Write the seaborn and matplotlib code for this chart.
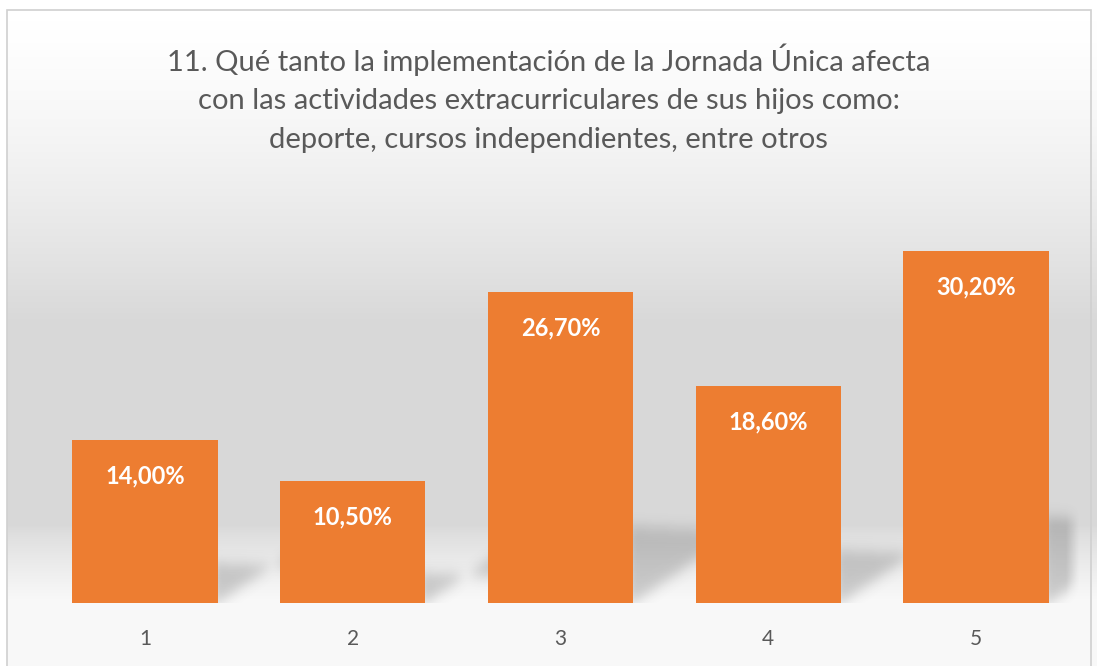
import numpy as np
import pandas as pd
import matplotlib
matplotlib.use("Agg")
import matplotlib.pyplot as plt
import seaborn as sns
from matplotlib.patches import Rectangle
from matplotlib.path import Path

categories = ["1", "2", "3", "4", "5"]
values = [14.0, 10.5, 26.7, 18.6, 30.2]
value_labels = ["14,00%", "10,50%", "26,70%", "18,60%", "30,20%"]
title = ("11. Qué tanto la implementación de la Jornada Única afecta\n"
         "con las actividades extracurriculares de sus hijos como:\n"
         "deporte, cursos independientes, entre otros")

sns.set_theme(style="white")
plt.rcParams['font.family'] = ['Lato', 'DejaVu Sans']

W, H = 1097, 666
fig = plt.figure(figsize=(W / 100, H / 100), dpi=100)
fig.patch.set_facecolor("white")

# background gradient panel
bg = fig.add_axes([0, 0, 1, 1], zorder=0)
bg.set_axis_off()
rows = np.arange(H)
def shade(px):
    top_w, grey_start, grey_end, bot_w = 20, 320, 525, 600
    g_light, g_dark = 1.0, 0.85
    if px < grey_start:
        f = max(0, (px - top_w) / (grey_start - top_w))
        return g_light - (g_light - g_dark) * f ** 1.4
    if px < grey_end:
        return g_dark
    f = min(1, (px - grey_end) / (bot_w - grey_end))
    return g_dark + (0.975 - g_dark) * f ** 0.8
col = np.array([shade(p) for p in rows])
img = np.repeat(col[:, None], 2, axis=1)
img = np.stack([img, img, img], axis=-1)
bg.imshow(img, aspect="auto", extent=[0, 1, 0, 1], origin="upper")
bg.set_xlim(0, 1)
bg.set_ylim(0, 1)
bg.add_patch(Rectangle((0, (H - 10) / H), 1, 10 / H, facecolor="white", edgecolor="none",
                       transform=bg.transAxes))
bg.add_patch(Rectangle((0, 0), 7 / W, 1, facecolor="white", edgecolor="none",
                       transform=bg.transAxes))
bg.add_patch(Rectangle((7 / W, -0.01), (1091 - 7) / W, (H - 10) / H + 0.01, fill=False,
                       edgecolor="#d0d0d0", linewidth=1.2, transform=bg.transAxes))

# main axes
left, right = 41, 1080
bottom_px, top_px = 603, 195
aw, ah = right - left, bottom_px - top_px
ax = fig.add_axes([left / W, (H - bottom_px) / H, aw / W, ah / H], zorder=2)
ax.patch.set_alpha(0)

df = pd.DataFrame({"cat": categories, "val": values})
sns.barplot(data=df, x="cat", y="val", color="#ED7D31", saturation=1, width=0.70,
            linewidth=0, ax=ax, zorder=3)
ymax = 35
ax.set_ylim(0, ymax)
ax.set_xlim(-0.5, len(categories) - 0.5)
for s in ax.spines.values():
    s.set_visible(False)
ax.set_yticks([])
ax.set_xlabel("")
ax.set_ylabel("")
ax.tick_params(axis="x", length=0, pad=19, labelsize=15, labelcolor="#595959")

# perspective shadows behind bars (pixel-space image, blurred)
xmin, xmax = ax.get_xlim()
sx = aw / (xmax - xmin)   # px per x unit
sy = ah / ymax            # px per y unit
gx, gy = np.meshgrid(np.arange(aw) + 0.5, np.arange(ah) + 0.5)  # gy from bottom
pts = np.column_stack([gx.ravel(), gy.ravel()])
mask = np.zeros(aw * ah)
bars = list(ax.patches)[:len(values)]
for p in bars:
    x0 = (p.get_x() + p.get_width() - xmin) * sx
    hpx = p.get_height() * sy
    sh = 0.245 * hpx
    dx = 90
    k = 0.68
    poly = Path([(x0 - 4, 0), (x0 - 4, sh), (x0 + dx, sh - 4), (x0 + dx, k * dx), (x0, 0)])
    mask = np.maximum(mask, poly.contains_points(pts).astype(float))
mask = mask.reshape(ah, aw)
def blur(a, r, axis):
    ker = np.exp(-0.5 * (np.arange(-3 * r, 3 * r + 1) / r) ** 2)
    ker /= ker.sum()
    return np.apply_along_axis(lambda v: np.convolve(v, ker, mode="same"), axis, a)
mask = blur(mask, 7, 0)
mask = blur(mask, 4, 1)
fade = np.clip((aw - gx) / 14, 0, 1)
mask = mask * fade
rgba = np.zeros((ah, aw, 4))
rgba[..., :3] = 0.25
rgba[..., 3] = mask * 0.24
ax.imshow(rgba[::-1], extent=(xmin, xmax, 0, ymax), aspect="auto", zorder=1,
          interpolation="bilinear")
ax.set_xlim(xmin, xmax)
ax.set_ylim(0, ymax)

for p, lab in zip(bars, value_labels):
    ax.annotate(lab, (p.get_x() + p.get_width() / 2, p.get_height()), xytext=(0, -36),
                textcoords="offset pixels", ha="center", va="center", color="white",
                fontsize=17, fontweight="bold", zorder=5)

fig.text(0.5, 1 - 98 / H, title, ha="center", va="center", fontsize=21, color="#595959",
         linespacing=1.6, zorder=3)

fig.savefig("out.png", dpi=100)
